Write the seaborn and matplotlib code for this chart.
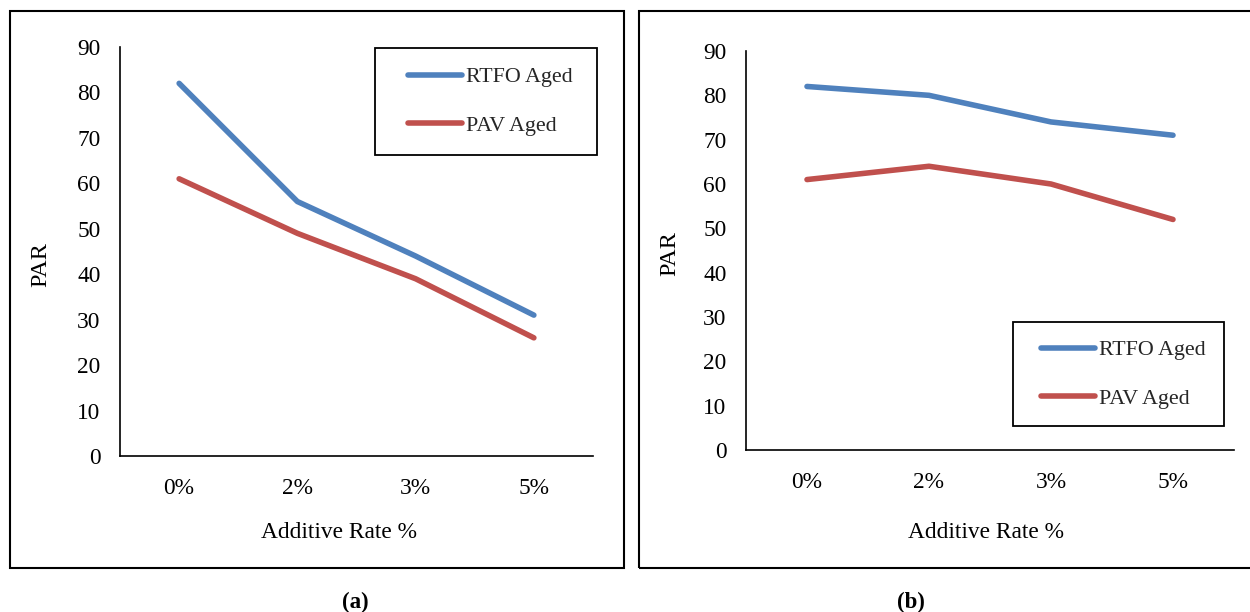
import matplotlib
matplotlib.use("Agg")
import matplotlib.pyplot as plt
import seaborn as sns
import pandas as pd
from matplotlib.patches import Rectangle

# ---- data ----
rates = ["0%", "2%", "3%", "5%"]
series_names = ["RTFO Aged", "PAV Aged"]
a_rtfo = [82, 56, 44, 31]
a_pav = [61, 49, 39, 26]
b_rtfo = [82, 80, 74, 71]
b_pav = [61, 64, 60, 52]
y_ticks = [0, 10, 20, 30, 40, 50, 60, 70, 80, 90]
colors = ["#4F81BD", "#C0504D"]

def long_df(rtfo, pav):
    return pd.DataFrame({
        "rate": rates * 2,
        "PAR": list(rtfo) + list(pav),
        "series": [series_names[0]] * len(rates) + [series_names[1]] * len(rates),
    })

sns.set_theme(style="white")
plt.rcParams["font.family"] = ["Liberation Serif", "DejaVu Serif"]

W, H = 1250, 612
fig = plt.figure(figsize=(W / 100, H / 100), dpi=100)

def fx(px):
    return px / W

def fy(py):
    return 1 - py / H

panels = [
    dict(df=long_df(a_rtfo, a_pav), ax=(120, 47, 593, 456), box=(10, 11, 624, 568),
         leg=(375, 48, 597, 155), leg_anchor=(408, 101.5), xlab=(339, 533), ylab=(41, 265),
         cap="(a)", capx=355),
    dict(df=long_df(b_rtfo, b_pav), ax=(746, 51, 1234, 450), box=(639, 11, 1256, 568),
         leg=(1013, 322, 1224, 426), leg_anchor=(1041, 374.5), xlab=(986, 533), ylab=(670, 254),
         cap="(b)", capx=911),
]

LW = 4.0

for p in panels:
    x0, y0, x1, y1 = p["ax"]
    ax = fig.add_axes([fx(x0), fy(y1), fx(x1 - x0), (y1 - y0) / H])
    sns.lineplot(data=p["df"], x="rate", y="PAR", hue="series", palette=colors,
                 linewidth=LW, sort=False, ax=ax, legend=True, solid_capstyle="round")
    ax.set_xlim(-0.5, len(rates) - 0.5)
    ax.set_ylim(0, 90)
    ax.set_yticks(y_ticks)
    ax.set_xticks(range(len(rates)))
    ax.set_xticklabels(rates)
    for s in ["top", "right"]:
        ax.spines[s].set_visible(False)
    for s in ["left", "bottom"]:
        ax.spines[s].set_color("black")
        ax.spines[s].set_linewidth(1.2)
    ax.tick_params(axis="both", length=0, labelsize=16.8, colors="black")
    ax.tick_params(axis="y", pad=14)
    ax.tick_params(axis="x", pad=16)
    ax.set_xlabel("")
    ax.set_ylabel("")
    ax.patch.set_alpha(0)

    # axis titles
    fig.text(fx(p["xlab"][0]), fy(p["xlab"][1]), "Additive Rate %", ha="center", va="center",
             fontsize=16.8, color="black")
    fig.text(fx(p["ylab"][0]), fy(p["ylab"][1]), "PAR", ha="center", va="center",
             rotation=90, fontsize=17.5, color="black")

    # legend
    handles, labels = ax.get_legend_handles_labels()
    for h in handles:
        h.set_linewidth(LW)
        h.set_solid_capstyle("round")
    ax.legend(handles, labels, loc="center left",
              bbox_to_anchor=(fx(p["leg_anchor"][0]), fy(p["leg_anchor"][1])),
              bbox_transform=fig.transFigure, frameon=False, fontsize=15.8,
              handlelength=2.45, handletextpad=0.2, labelspacing=1.3,
              borderpad=0, borderaxespad=0)
    lx0, ly0, lx1, ly1 = p["leg"]
    fig.add_artist(Rectangle((fx(lx0), fy(ly1)), fx(lx1 - lx0), (ly1 - ly0) / H,
                             transform=fig.transFigure, fill=False, edgecolor="black",
                             linewidth=1.3))

    # outer panel box
    bx0, by0, bx1, by1 = p["box"]
    fig.add_artist(Rectangle((fx(bx0), fy(by1)), fx(bx1 - bx0), (by1 - by0) / H,
                             transform=fig.transFigure, fill=False, edgecolor="black",
                             linewidth=1.5))

    # caption
    fig.text(fx(p["capx"]), fy(602), p["cap"], ha="center", va="center",
             fontsize=16.5, fontweight="bold", color="black")

fig.savefig("out.png", dpi=100, facecolor="white")
